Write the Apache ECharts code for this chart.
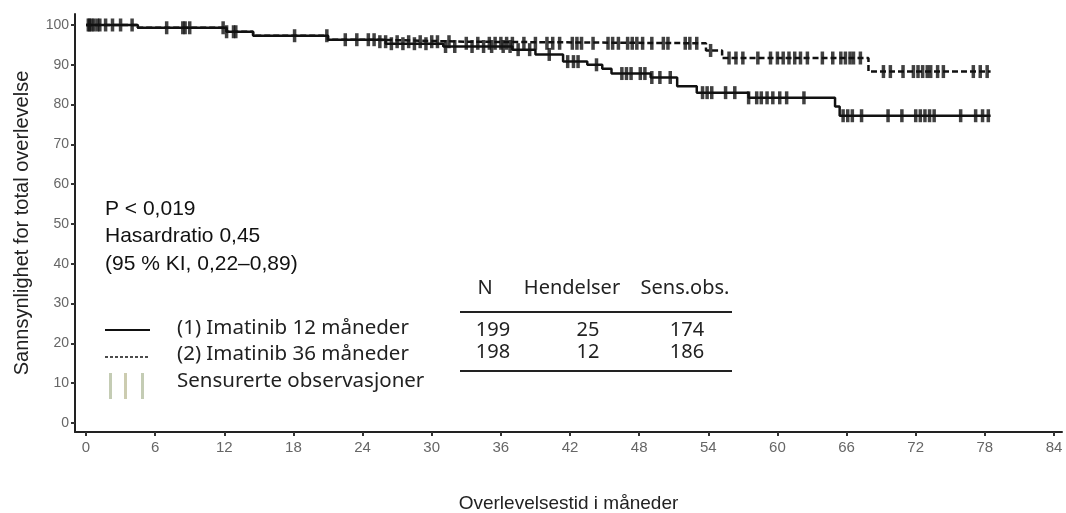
<!DOCTYPE html>
<html>
<head>
<meta charset="utf-8">
<script src="https://cdn.jsdelivr.net/npm/echarts@6/dist/echarts.min.js"></script>
<style>
  html, body { margin: 0; padding: 0; background: #fff; }
  #main { width: 1066px; height: 513px; }
</style>
</head>
<body>
<div id="main"></div>
<script>
// Kaplan-Meier steps: [month, survival %]
const stepsArm12 = [
  [0, 100], [4.5, 99.3], [12.2, 98.3], [14.5, 97.3], [21, 96.3], [26, 95.3],
  [31, 94.6], [37, 93.8], [39, 92.6], [41.4, 90.8], [43.5, 90.0], [44.8, 89.0],
  [45.6, 87.8], [49, 86.8], [51.3, 84.6], [53, 83.0], [57.5, 81.7], [65.0, 79.5],
  [65.4, 77.2], [78.5, 77.2]
];
const stepsArm36 = [
  [0, 100], [4.5, 99.3], [12.2, 98.3], [14.5, 97.3], [21, 96.3], [25, 95.8],
  [33, 95.4], [53.8, 93.6], [55.2, 91.7], [67.9, 88.3], [78.5, 88.3]
];
// censored observations (months)
const censArm12 = [
  0.2, 0.5, 1.2, 2.3, 4.0, 8.6, 11.9, 12.8, 18.1, 23.5, 25, 26.5, 27.5, 28.5,
  29.5, 31.2, 32, 33.5, 34.5, 35.2, 36.2, 36.8, 37.5, 38.5, 40.2, 41.8, 42.3,
  42.7, 44.3, 46.5, 46.9, 47.3, 48.1, 48.5, 49.1, 49.8, 50.7, 53.5, 53.9, 54.3,
  55.5, 56.3, 57.5, 58.2, 58.6, 59.1, 59.6, 60.2, 60.8, 62.3, 65.7, 66.1, 66.5,
  67.3, 69.6, 70.8, 72, 72.4, 72.8, 73.2, 73.6, 75.9, 77.2, 77.8, 78.3
];
const censArm36 = [
  0.3, 0.7, 1.0, 1.7, 3.0, 7.0, 8.4, 9, 12.2, 13, 20.9, 22.5, 24.5, 25.5, 26,
  27, 28, 29, 30, 30.5, 31.5, 33, 34, 35, 35.5, 36, 36.5, 37, 38, 39, 40, 40.5,
  41.1, 42.2, 42.6, 43, 44, 45.3, 45.7, 46.2, 47, 47.4, 47.8, 48.3, 49.1, 50.1,
  50.5, 52, 52.4, 53, 54.2, 55.8, 56.4, 57, 58.3, 59.4, 60, 60.5, 61, 61.5, 62,
  62.6, 63.9, 64.8, 65.5, 65.9, 66.3, 66.6, 67.2, 69.2, 69.8, 70.9, 71.8, 72.2,
  72.6, 73, 73.3, 73.9, 74.4, 77, 77.6, 78.2
];
const xTicks = [0, 6, 12, 18, 24, 30, 36, 42, 48, 54, 60, 66, 72, 78, 84];
const yTicks = [0, 10, 20, 30, 40, 50, 60, 70, 80, 90, 100];
const seriesNames = ['(1) Imatinib 12 måneder', '(2) Imatinib 36 måneder'];
const statLines = ['P < 0,019', 'Hasardratio 0,45', '(95 % KI, 0,22–0,89)'];
const tableHeader = ['N', 'Hendelser', 'Sens.obs.'];
const tableRows = [['199', '25', '174'], ['198', '12', '186']];

function survAt(steps, t) {
  let v = steps[0][1];
  for (const s of steps) { if (s[0] <= t) v = s[1]; else break; }
  return v;
}
const censPts = (steps, times) => times.map(t => [t, survAt(steps, t)]);

const chart = echarts.init(document.getElementById('main'));
const font = 'Noto Sans, sans-serif';
const arial = 'Liberation Sans, Arial, sans-serif';
const headX = [485, 572, 685];
const cellX = [493, 588, 687];

const graphics = [
  // legend
  { type: 'line', shape: { x1: 105, y1: 330, x2: 150, y2: 330 }, style: { stroke: '#111', lineWidth: 2 } },
  { type: 'line', shape: { x1: 105, y1: 357, x2: 150, y2: 357 }, style: { stroke: '#111', lineWidth: 1.5, lineDash: [3, 2] } },
  { type: 'rect', shape: { x: 109, y: 373, width: 3, height: 26 }, style: { fill: '#c4ccb4' } },
  { type: 'rect', shape: { x: 124, y: 373, width: 3, height: 26 }, style: { fill: '#ccccb0' } },
  { type: 'rect', shape: { x: 141, y: 373, width: 3, height: 26 }, style: { fill: '#c4ccb4' } },
  // table rules
  { type: 'line', shape: { x1: 460, y1: 312, x2: 732, y2: 312 }, style: { stroke: '#222', lineWidth: 2 } },
  { type: 'line', shape: { x1: 460, y1: 371, x2: 732, y2: 371 }, style: { stroke: '#222', lineWidth: 2 } }
];
seriesNames.concat(['Sensurerte observasjoner']).forEach((s, i) => {
  graphics.push({ type: 'text', x: 177, y: 328 + i * 26.5,
    style: { text: s, font: '20.5px ' + font, fill: '#222', verticalAlign: 'middle' } });
});
statLines.forEach((s, i) => {
  graphics.push({ type: 'text', x: 105, y: 209 + i * 27.5,
    style: { text: s, font: '21px ' + arial, fill: '#111', verticalAlign: 'middle' } });
});
tableHeader.forEach((s, i) => {
  graphics.push({ type: 'text', x: headX[i], y: 288,
    style: { text: s, font: '20px ' + font, fill: '#222', align: 'center', verticalAlign: 'middle' } });
});
tableRows.forEach((row, r) => {
  row.forEach((s, i) => {
    graphics.push({ type: 'text', x: cellX[i], y: 330 + r * 22,
      style: { text: s, font: '20px ' + font, fill: '#222', align: 'center', verticalAlign: 'middle' } });
  });
});

// axes sit a little outside the data area: extend the ranges beyond 0..84 / 0..100
const censorStyle = { color: '#111' };
chart.setOption({
  animation: false,
  backgroundColor: '#fff',
  grid: { left: 75, right: 4, top: 14, bottom: 81, containLabel: false, outerBoundsMode: 'none' },
  xAxis: {
    type: 'value', min: -0.9545, max: 84.694,
    name: 'Overlevelsestid i måneder', nameLocation: 'middle', nameGap: 62,
    nameTextStyle: { fontSize: 19, color: '#222', fontFamily: arial },
    axisLine: { show: true, onZero: false, lineStyle: { color: '#222', width: 2 } },
    axisTick: { show: true, length: 4, customValues: xTicks, lineStyle: { color: '#333', width: 2 } },
    axisLabel: { fontSize: 15, color: '#666', margin: 8, fontFamily: arial, customValues: xTicks },
    splitLine: { show: false }
  },
  yAxis: {
    type: 'value', min: -2.261, max: 102.76,
    name: 'Sannsynlighet for total overlevelse', nameLocation: 'middle', nameGap: 43,
    nameTextStyle: { fontSize: 20, color: '#222', fontFamily: arial },
    axisLine: { show: true, onZero: false, lineStyle: { color: '#222', width: 2 } },
    axisTick: { show: true, length: 4, customValues: yTicks, lineStyle: { color: '#333', width: 2 } },
    axisLabel: { fontSize: 14, color: '#666', margin: 6, fontFamily: arial, customValues: yTicks },
    splitLine: { show: false }
  },
  graphic: graphics,
  series: [
    { name: seriesNames[0], type: 'line', step: 'end', data: stepsArm12, showSymbol: false,
      lineStyle: { color: '#111', width: 2.5 }, z: 3 },
    { name: seriesNames[1], type: 'line', step: 'end', data: stepsArm36, showSymbol: false,
      lineStyle: { color: '#111', width: 2.5, type: [6, 3] }, z: 3 },
    { type: 'scatter', data: censPts(stepsArm12, censArm12), symbol: 'rect',
      symbolSize: [3.5, 13], itemStyle: censorStyle, z: 4 },
    { type: 'scatter', data: censPts(stepsArm36, censArm36), symbol: 'rect',
      symbolSize: [3.5, 13], itemStyle: censorStyle, z: 4 }
  ]
});
</script>
</body>
</html>
